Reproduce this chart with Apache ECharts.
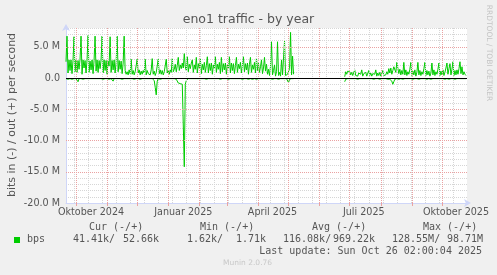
<!DOCTYPE html>
<html><head><meta charset="utf-8">
<script src="https://cdn.jsdelivr.net/npm/echarts@6/dist/echarts.min.js"></script>
<style>html,body{margin:0;padding:0;background:#f0f0f0}#c{width:497px;height:275px}</style>
</head><body><div id="c"></div>
<script>
// ---- data (values in Mbit/s, one per day starting at startDate) ----
const startDate = '2024-09-21';
const endDate = '2025-10-26';
const outMbps = [
2.6,6.7,0.8,2.9,1.2,2.9,0.7,2.8,6.6,1.0,
2.9,0.9,2.8,1.4,3.0,6.7,0.6,2.9,1.6,2.8,
0.8,2.9,6.8,0.9,2.7,1.3,2.9,0.7,2.8,6.7,
1.1,2.9,0.9,2.8,1.5,2.9,6.7,0.8,2.9,1.2,
2.8,0.6,2.7,1.9,6.6,0.9,2.8,1.3,2.9,0.8,
2.6,6.7,1.0,2.8,1.4,2.7,0.7,2.4,6.7,1.2,
0.6,1.0,0.5,1.3,0.7,3.0,0.6,1.2,0.5,1.0,
0.7,3.0,0.8,1.3,0.5,1.1,0.6,1.2,0.8,3.0,
0.5,1.2,0.7,1.0,0.5,1.3,3.1,0.6,1.1,0.4,
0.9,0.6,3.0,0.7,1.3,0.6,1.2,0.5,1.0,0.7,
3.0,0.8,1.2,0.6,1.3,0.9,3.1,1.0,1.4,2.2,
1.0,2.0,3.3,1.2,2.1,1.5,2.4,1.6,3.9,1.8,
1.2,3.4,1.0,2.2,1.5,2.4,2.9,0.9,2.1,1.4,
3.3,0.8,2.3,1.6,3.1,0.7,2.2,1.3,2.5,0.9,
2.0,3.4,0.8,2.3,1.2,2.4,0.6,2.1,1.5,3.4,
0.9,2.2,1.4,2.5,0.7,3.3,1.0,2.3,1.3,2.4,
0.6,2.1,1.6,3.4,0.8,2.4,1.2,2.3,0.7,2.0,
3.3,0.9,2.2,1.5,2.5,0.8,2.1,3.4,1.0,2.3,
1.3,2.4,0.6,2.2,3.3,0.9,2.1,1.4,2.5,0.8,
3.2,1.2,2.4,0.9,1.8,2.9,0.7,1.6,3.3,1.1,
2.2,0.6,1.4,0.4,1.9,5.8,0.5,1.2,2.1,0.3,
1.0,5.8,0.4,0.9,0.3,2.9,0.5,0.3,5.9,0.4,
0.2,0.6,0.3,1.5,7.3,0.5,3.5,0.6,null,null,
null,null,null,null,null,null,null,null,null,null,
null,null,null,null,null,null,null,null,null,null,
null,null,null,null,null,null,null,null,null,null,
null,null,null,null,null,null,null,null,null,null,
null,null,null,null,null,null,null,null,0.2,1.0,
0.6,1.1,0.8,1.0,0.5,0.9,0.4,0.6,1.3,0.4,
0.7,0.3,0.8,0.5,0.6,1.3,0.3,0.7,0.4,0.9,
0.3,0.6,1.2,0.4,0.8,0.3,0.7,0.4,0.6,1.3,
0.3,0.8,0.4,0.9,0.3,0.6,1.2,0.4,0.7,0.5,
1.0,0.6,1.5,0.8,1.6,0.6,1.2,1.8,2.1,0.9,
2.5,2.3,0.7,1.4,0.5,1.2,0.6,2.5,0.5,1.3,
0.4,1.0,0.6,1.4,2.5,0.4,1.1,0.5,1.3,0.3,
0.9,2.5,0.5,1.2,0.4,1.0,0.6,1.5,2.5,0.4,
1.2,0.5,1.1,0.3,0.8,2.4,0.5,1.3,0.4,1.0,
0.6,1.4,2.4,0.4,1.1,0.5,1.3,0.4,0.9,1.6,
2.4,0.6,1.5,2.3,0.5,1.4,2.6,0.4,1.2,0.5,
1.3,0.6,1.5,2.6,0.7,1.8,0.5,1.0,0.6,0.4
];
const inMbps = [
-0.1,-0.1,-0.2,-0.1,-0.1,-0.1,-0.2,-0.1,-0.1,-0.1,
-0.1,-0.2,-0.6,-0.1,-0.1,-0.1,-0.1,-0.2,-0.1,-0.1,
-0.1,-0.1,-0.2,-0.1,-0.1,-0.1,-0.2,-0.1,-0.1,-0.1,
-0.1,-0.1,-0.2,-0.1,-0.1,-0.1,-0.1,-0.2,-0.1,-0.1,
-0.1,-0.1,-0.1,-0.2,-0.1,-0.1,-0.2,-0.5,-0.1,-0.1,
-0.1,-0.2,-0.1,-0.1,-0.1,-0.1,-0.2,-0.1,-0.1,-0.1,
-0.1,-0.1,-0.1,-0.2,-0.1,-0.1,-0.1,-0.1,-0.2,-0.1,
-0.1,-0.1,-0.1,-0.1,-0.2,-0.1,-0.1,-0.1,-0.1,-0.2,
-0.1,-0.1,-0.1,-0.1,-0.1,-0.2,-0.1,-0.2,-0.4,-1.5,
-2.7,-0.5,-0.1,-0.1,-0.2,-0.1,-0.1,-0.1,-0.1,-0.2,
-0.1,-0.1,-0.1,-0.2,-0.1,-0.1,-0.1,-0.2,-0.1,-0.2,
-0.2,-0.3,-0.8,-0.5,-0.9,-0.6,-1.0,-0.7,-14.2,-1.0,
-0.4,-0.1,-0.1,-0.2,-0.1,-0.1,-0.1,-0.2,-0.1,-0.1,
-0.1,-0.2,-0.1,-0.1,-0.1,-0.2,-0.1,-0.1,-0.1,-0.1,
-0.2,-0.1,-0.1,-0.1,-0.1,-0.2,-0.1,-0.1,-0.1,-0.2,
-0.1,-0.1,-0.1,-0.1,-0.2,-0.1,-0.1,-0.1,-0.1,-0.2,
-0.1,-0.1,-0.2,-0.1,-0.1,-0.1,-0.1,-0.2,-0.1,-0.1,
-0.1,-0.2,-0.1,-0.1,-0.1,-0.1,-0.2,-0.1,-0.1,-0.1,
-0.1,-0.1,-0.2,-0.1,-0.1,-0.1,-0.2,-0.1,-0.1,-0.1,
-0.2,-0.1,-0.1,-0.1,-0.1,-0.2,-0.1,-0.1,-0.1,-0.1,
-0.1,-0.2,-0.1,-0.1,-0.1,-0.1,-0.2,-0.1,-0.1,-0.1,
-0.1,-0.1,-0.2,-0.1,-0.1,-0.2,-0.1,-0.1,-0.1,-0.1,
-0.1,-0.3,-0.75,-0.2,-0.1,-0.1,-0.2,-0.1,null,null,
null,null,null,null,null,null,null,null,null,null,
null,null,null,null,null,null,null,null,null,null,
null,null,null,null,null,null,null,null,null,null,
null,null,null,null,null,null,null,null,null,null,
null,null,null,null,null,null,null,null,-0.6,-0.2,
-0.1,-0.1,-0.2,-0.1,-0.1,-0.1,-0.2,-0.1,-0.1,-0.1,
-0.1,-0.2,-0.1,-0.1,-0.1,-0.1,-0.2,-0.1,-0.1,-0.1,
-0.1,-0.1,-0.2,-0.1,-0.1,-0.1,-0.1,-0.2,-0.1,-0.1,
-0.1,-0.1,-0.1,-0.2,-0.1,-0.1,-0.1,-0.1,-0.2,-0.1,
-0.1,-0.2,-0.1,-0.2,-0.1,-0.5,-1.0,-0.6,-0.2,-0.1,
-0.1,-0.1,-0.2,-0.1,-0.1,-0.1,-0.2,-0.1,-0.1,-0.1,
-0.1,-0.2,-0.1,-0.1,-0.1,-0.1,-0.2,-0.1,-0.1,-0.1,
-0.1,-0.1,-0.2,-0.1,-0.1,-0.1,-0.1,-0.3,-0.1,-0.1,
-0.2,-0.1,-0.1,-0.1,-0.2,-0.1,-0.1,-0.1,-0.1,-0.2,
-0.1,-0.1,-0.1,-0.2,-0.1,-0.1,-0.1,-0.1,-0.2,-0.1,
-0.1,-0.1,-0.2,-0.1,-0.1,-0.3,-0.1,-0.1,-0.2,-0.1,
-0.1,-0.2,-0.1,-0.1,-0.1,-0.2,-0.1,-0.1,-0.1,-0.1
];
const monthStarts = ['2024-10-01','2024-11-01','2024-12-01','2025-01-01','2025-02-01','2025-03-01','2025-04-01','2025-05-01','2025-06-01','2025-07-01','2025-08-01','2025-09-01','2025-10-01'];
const minorGridDates = ['2024-09-29','2024-10-13','2024-10-27','2024-11-10','2024-11-24','2024-12-08','2024-12-22','2025-01-05','2025-01-19','2025-02-02','2025-02-16','2025-03-02','2025-03-16','2025-03-30','2025-04-13','2025-04-27','2025-05-11','2025-05-25','2025-06-08','2025-06-22','2025-07-06','2025-07-20','2025-08-03','2025-08-17','2025-08-31','2025-09-14','2025-09-28','2025-10-12'];
const xLabelDates = ['2024-10-16','2025-01-16','2025-04-15','2025-07-15','2025-10-15'];
const xLabelTexts = ['Oktober 2024','Januar 2025','April 2025','Juli 2025','Oktober 2025'];
const yMajorTicksM = [-15, -10, -5, 5];
const legendHeaders = ['Cur (-/+)', 'Min (-/+)', 'Avg (-/+)', 'Max (-/+)'];
const legendValues = [['41.41k/', '52.66k'], ['1.62k/', '1.71k'], ['116.08k/', '969.22k'], ['128.55M/', '98.71M']];
const seriesName = 'bps';
const titleText = 'eno1 traffic - by year';
const yAxisTitle = 'bits in (-) / out (+) per second';
const lastUpdate = 'Last update: Sun Oct 26 02:00:04 2025';

// ---- build ----
const DAY = 86400000;
const ts = s => new Date(s + 'T00:00:00Z').getTime();
const t0 = ts(startDate), t1 = ts(endDate);
const outData = outMbps.map((v, i) => [t0 + i * DAY, v == null ? null : v * 1e6]);
const inData = inMbps.map((v, i) => [t0 + i * DAY, v == null ? null : v * 1e6]);
const xLabelTs = xLabelDates.map(ts);

const GREEN = '#00cc00';
const AXIS = '#cfd6f8';
const MINOR = '#d6d6d6';
const MAJOR = '#eaa2a2';
const TXT = '#555555';
const mono = '"DejaVu Sans Mono", monospace';

const chart = echarts.init(document.getElementById('c'), null, {renderer: 'canvas'});
const headX = [89, 200, 312, 423];
const valX = [[73, 123], [187, 236], [283, 333], [392, 447]];
const graphics = [];
graphics.push({type: 'text', x: 248.5, y: 19.5, style: {text: titleText, font: '12.5px "DejaVu Sans"', fill: TXT, align: 'center', verticalAlign: 'middle'}});
graphics.push({type: 'text', x: 12, y: 115, rotation: Math.PI / 2, style: {text: yAxisTitle, font: '11px "DejaVu Sans"', fill: TXT, align: 'center', verticalAlign: 'middle'}});
graphics.push({type: 'text', x: 489, y: 53, rotation: -Math.PI / 2, style: {text: 'RRDTOOL / TOBI OETIKER', font: '7.5px "DejaVu Sans"', fill: '#c4c4c4', align: 'center', verticalAlign: 'middle'}});
legendHeaders.forEach((h, i) => graphics.push({type: 'text', x: headX[i], y: 227.5, style: {text: h, font: '10px ' + mono, fill: TXT, align: 'left', verticalAlign: 'middle'}}));
graphics.push({type: 'rect', shape: {x: 14, y: 237, width: 6, height: 6}, style: {fill: GREEN}});
graphics.push({type: 'text', x: 27, y: 239.5, style: {text: seriesName, font: '10px ' + mono, fill: TXT, align: 'left', verticalAlign: 'middle'}});
legendValues.forEach((pair, i) => pair.forEach((t, j) => graphics.push({type: 'text', x: valX[i][j], y: 239.5, style: {text: t, font: '10px ' + mono, fill: TXT, align: 'left', verticalAlign: 'middle'}})));
graphics.push({type: 'text', x: 482, y: 251.5, style: {text: lastUpdate, font: '10px ' + mono, fill: TXT, align: 'right', verticalAlign: 'middle'}});
graphics.push({type: 'text', x: 223, y: 263.5, style: {text: 'Munin 2.0.76', font: '7.5px "DejaVu Sans"', fill: '#c8c8c8', align: 'left', verticalAlign: 'middle'}});

const gridLine = (color) => ({color: color, width: 1, type: [1, 1]});

chart.setOption({
  animation: false,
  backgroundColor: '#f0f0f0',
  textStyle: {fontFamily: '"DejaVu Sans"'},
  grid: {left: 66, right: 30, top: 28, bottom: 72, show: true, backgroundColor: '#ffffff', borderWidth: 0, containLabel: false, outerBoundsMode: 'none'},
  xAxis: {
    type: 'value', min: t0, max: t1, position: 'bottom', scale: true,
    axisLine: {onZero: false, lineStyle: {color: AXIS, width: 1}, symbol: ['none', 'arrow'], symbolSize: [6, 7], symbolOffset: [0, 4]},
    axisTick: {show: true, customValues: monthStarts.map(ts), length: 3, lineStyle: {color: MAJOR}},
    axisLabel: {customValues: xLabelTs, formatter: v => { const i = xLabelTs.indexOf(v); return i >= 0 ? xLabelTexts[i] : ''; }, fontSize: 9.6, color: TXT, margin: 4, hideOverlap: false},
    splitLine: {show: false}
  },
  yAxis: {
    type: 'value', min: -20e6, max: 8e6, interval: 1e6,
    axisLine: {show: true, lineStyle: {color: AXIS, width: 1}, symbol: ['none', 'arrow'], symbolSize: [6, 7], symbolOffset: [0, 4]},
    axisTick: {show: false},
    axisLabel: {fontSize: 9.6, color: TXT, margin: 6, formatter: v => { const m = Math.round(v / 1e6); if (m % 5 !== 0 || m > 5) return ''; return m === 0 ? '0.0' : m.toFixed(1) + ' M'; }},
    splitLine: {show: true, lineStyle: gridLine(MINOR)}
  },
  graphic: graphics,
  series: [
    {type: 'line', name: 'gridV', data: [], z: 1, silent: true,
     markLine: {silent: true, symbol: ['none', 'none'], label: {show: false}, animation: false,
       data: minorGridDates.map(d => ({xAxis: ts(d), lineStyle: gridLine(MINOR)}))
         .concat(monthStarts.map(d => ({xAxis: ts(d), lineStyle: gridLine(MAJOR)})))
         .concat(yMajorTicksM.map(m => ({yAxis: m * 1e6, lineStyle: gridLine(MAJOR)})))}},
    {type: 'line', name: seriesName + ' out', data: outData, showSymbol: false, z: 3, lineStyle: {color: GREEN, width: 1}, itemStyle: {color: GREEN}, connectNulls: false},
    {type: 'line', name: seriesName + ' in', data: inData, showSymbol: false, z: 3, lineStyle: {color: GREEN, width: 1}, itemStyle: {color: GREEN}, connectNulls: false},
    {type: 'line', name: 'zero', data: [], z: 4, silent: true,
     markLine: {silent: true, symbol: ['none', 'none'], label: {show: false}, animation: false,
       data: [{yAxis: 0, lineStyle: {color: '#000000', width: 1, type: 'solid'}}]}}
  ]
});
</script></body></html>
